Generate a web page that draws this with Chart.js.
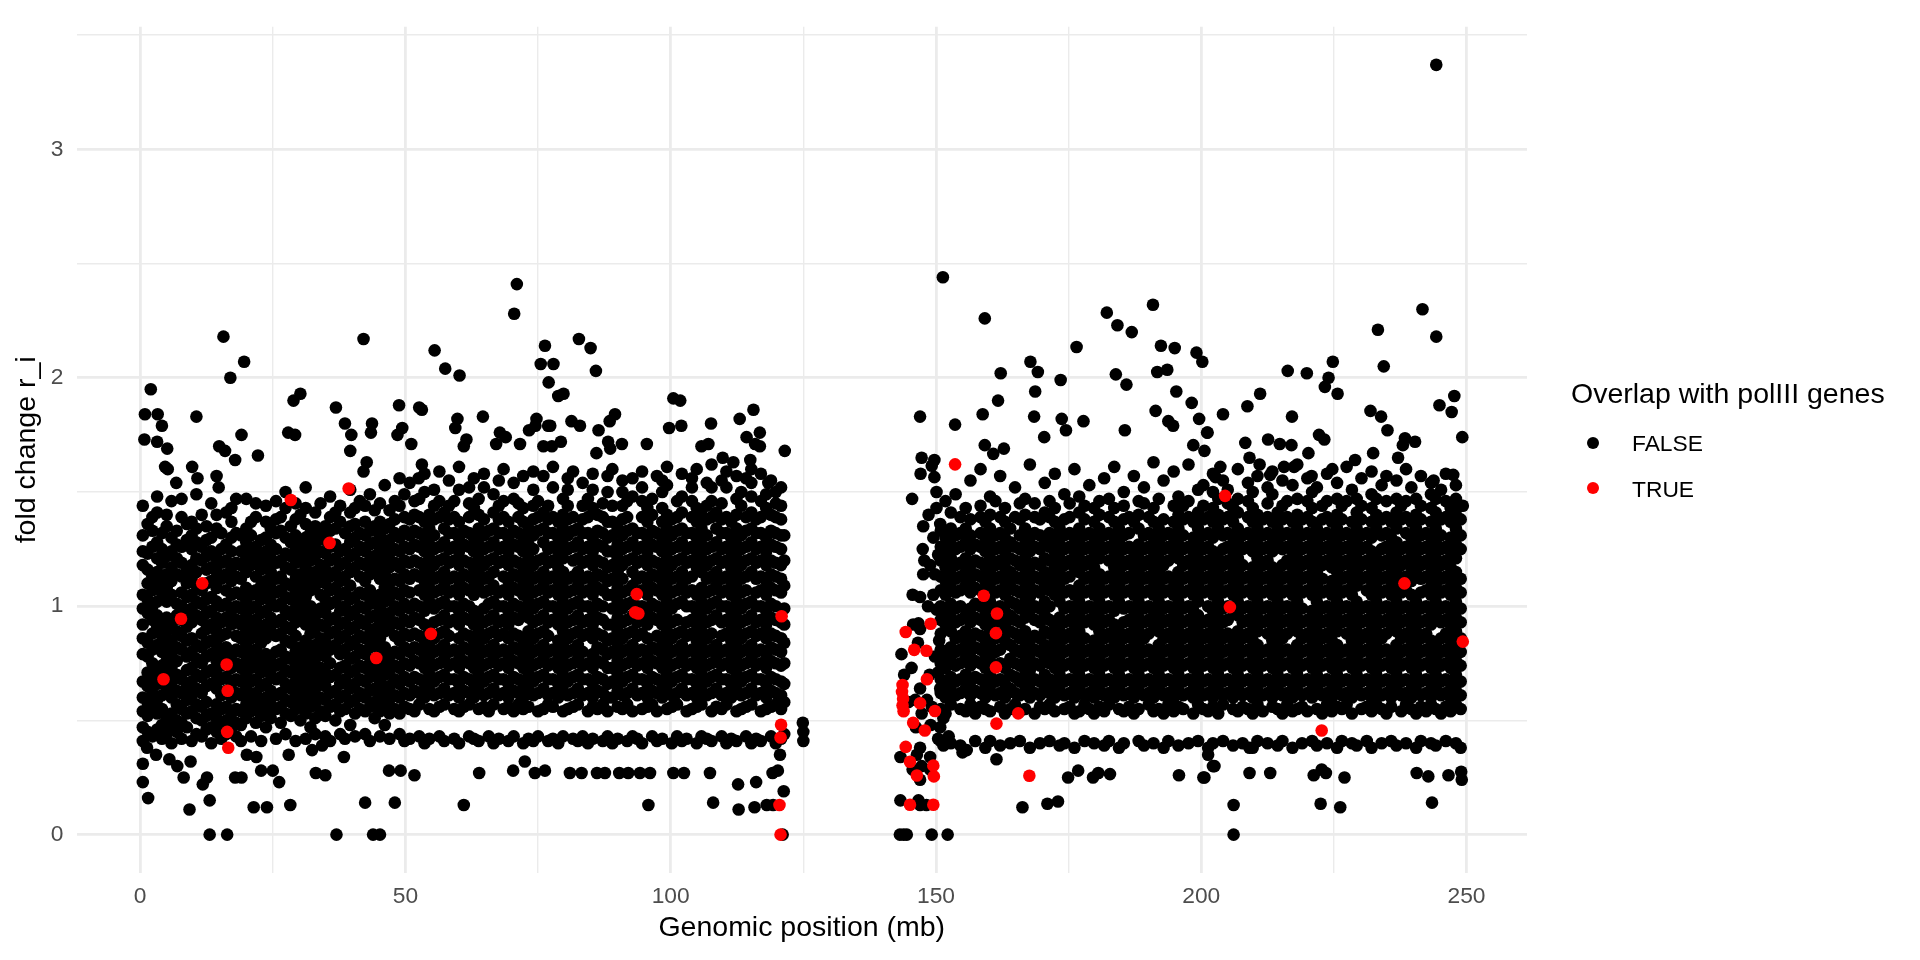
<!DOCTYPE html>
<html>
<head>
<meta charset="utf-8">
<script src="https://cdn.jsdelivr.net/npm/chart.js@4.4.1/dist/chart.umd.min.js"></script>
<style>
  html, body { margin: 0; padding: 0; background: #fff; }
  #wrap { position: relative; width: 1920px; height: 960px; font-family: "Liberation Sans", Arial, sans-serif; }
  #chart { position: absolute; left: 0; top: 0; }
  .lg-title { position: absolute; left: 1571px; top: 379px; font-size: 28.5px; line-height: 1; color: #000; white-space: nowrap; }
  .lg-label { position: absolute; left: 1632px; font-size: 22.8px; line-height: 1; color: #000; }
  .lg-dot { position: absolute; left: 1586.7px; width: 12.6px; height: 12.6px; border-radius: 50%; }
</style>
</head>
<body>
<div id="wrap">
  <canvas id="chart" width="1920" height="960"></canvas>
  <div class="lg-title">Overlap with polIII genes</div>
  <span class="lg-dot" style="top:436.7px;background:#000"></span>
  <div class="lg-label" style="top:432px">FALSE</div>
  <span class="lg-dot" style="top:481.7px;background:#ff0000"></span>
  <div class="lg-label" style="top:478px">TRUE</div>
</div>
<script>
const xTicks = [0, 25, 50, 75, 100, 125, 150, 175, 200, 225, 250];
const yTicks = [0, 0.5, 1, 1.5, 2, 2.5, 3, 3.5];

// dense cloud, left arm: [position mb, fold values read down that column]
const pArmColumns = [
  [0.5,[.41,.47,.54,.60,.67,.79,.86,.92,.99,1.05,1.18,1.24,1.31,1.44]],
  [1.4,[.45,.52,.58,.65,.71,.78,.84,.97,1.03,1.10,1.16,1.23,1.36]],
  [2.3,[.43,.56,.62,.68,.75,.81,.88,.94,1.00,1.07,1.13,1.26,1.33,1.39]],
  [3.2,[.46,.53,.59,.66,.72,.83,.91,.96,1.02,1.09,1.15,1.21,1.28,1.41,1.48]],
  [4.1,[.42,.48,.55,.61,.69,.74,.80,.87,.93,1.06,1.12,1.19,1.25,1.32]],
  [5.0,[.44,.51,.64,.70,.76,.83,.89,.95,1.02,1.08,1.14,1.22,1.35,1.40]],
  [5.9,[.40,.47,.53,.60,.66,.73,.79,.85,.92,1.05,1.11,1.17,1.24,1.30,1.46]],
  [6.9,[.45,.50,.57,.63,.70,.76,.82,.89,.96,1.01,1.14,1.21,1.27,1.33]],
  [7.8,[.42,.49,.55,.62,.68,.81,.87,.94,1.00,1.06,1.13,1.19,1.26,1.39,1.47]],
  [8.8,[.47,.53,.59,.65,.72,.78,.85,.91,.97,1.04,1.10,1.16,1.29,1.36]],
  [9.7,[.41,.54,.61,.67,.73,.80,.86,.93,.99,1.05,1.12,1.18,1.25,1.31,1.37]],
  [10.6,[.44,.51,.57,.64,.70,.77,.83,.96,1.02,1.09,1.15,1.21,1.28,1.34,1.49]],
  [11.6,[.43,.50,.56,.62,.69,.75,.82,.88,.94,1.01,1.07,1.20,1.26,1.40]],
  [12.5,[.46,.52,.58,.65,.71,.78,.84,.90,.97,1.03,1.10,1.16,1.22,1.29,1.35]],
  [13.4,[.40,.47,.53,.66,.72,.79,.85,.92,.98,1.04,1.11,1.17,1.24,1.30,1.45]],
  [14.4,[.45,.51,.57,.64,.70,.76,.83,.89,.95,1.02,1.08,1.15,1.21,1.34,1.40]],
  [15.3,[.42,.48,.55,.61,.68,.74,.80,.87,.93,1.00,1.12,1.19,1.25,1.32]],
  [16.2,[.44,.50,.56,.63,.69,.76,.82,.88,.95,1.01,1.07,1.14,1.20,1.27,1.41]],
  [17.2,[.47,.53,.60,.66,.73,.79,.92,.98,1.05,1.11,1.17,1.24,1.30,1.37,1.43]],
  [18.1,[.43,.49,.55,.62,.68,.75,.81,.87,.94,1.00,1.06,1.13,1.19,1.32,1.47]],
  [19.0,[.41,.48,.54,.61,.67,.73,.80,.86,.92,.99,1.05,1.12,1.18,1.24,1.31]],
  [20.0,[.51,.57,.64,.70,.76,.83,.89,.96,1.02,1.08,1.15,1.21,1.28,1.34,1.47]],
  [20.9,[.43,.54,.60,.67,.73,.79,.86,.92,.99,1.05,1.18,1.24,1.31,1.37]],
  [21.8,[.49,.56,.62,.68,.75,.81,.88,.94,1.00,1.07,1.13,1.20,1.26,1.39,1.45]],
  [22.8,[.41,.52,.58,.65,.71,.77,.84,.90,.97,1.03,1.09,1.16,1.22,1.29]],
  [23.7,[.47,.54,.60,.66,.73,.79,.86,.92,.98,1.05,1.11,1.18,1.24,1.30,1.37,1.44]],
  [24.6,[.51,.57,.63,.70,.76,.89,.95,1.02,1.08,1.15,1.21,1.27,1.34]],
  [25.6,[.42,.55,.61,.68,.74,.80,.87,.93,1.00,1.06,1.12,1.19,1.25,1.32,1.38,1.46]],
  [26.5,[.49,.56,.62,.69,.75,.81,.88,.94,1.01,1.07,1.13,1.20,1.33,1.39]],
  [27.4,[.44,.53,.59,.66,.72,.78,.85,.91,.98,1.04,1.10,1.17,1.23,1.30,1.43,1.50]],
  [28.4,[.52,.58,.64,.71,.77,.84,.90,.96,1.03,1.09,1.16,1.22,1.28,1.35]],
  [29.3,[.41,.55,.61,.67,.74,.80,.87,.93,.99,1.06,1.12,1.19,1.25,1.31,1.38,1.45]],
  [30.2,[.50,.57,.63,.70,.76,.82,.95,1.02,1.08,1.14,1.21,1.27,1.40]],
  [31.2,[.42,.53,.60,.66,.72,.79,.85,.92,.98,1.04,1.11,1.17,1.24,1.30,1.36,1.43,1.52]],
  [32.1,[.47,.56,.62,.68,.75,.81,.88,.94,1.00,1.07,1.13,1.20,1.26,1.32]],
  [33.0,[.44,.51,.58,.64,.71,.77,.83,.90,.96,1.09,1.15,1.22,1.28,1.35,1.41]],
  [34.0,[.54,.60,.67,.73,.80,.86,.92,.99,1.05,1.12,1.18,1.24,1.31,1.45]],
  [34.9,[.43,.52,.59,.65,.71,.78,.84,.91,.97,1.03,1.10,1.16,1.23,1.29,1.35]],
  [35.8,[.41,.56,.62,.69,.75,.81,.88,.94,1.01,1.07,1.13,1.20,1.26,1.33,1.39,1.48]],
  [36.8,[.50,.57,.63,.70,.83,.89,.95,1.02,1.08,1.15,1.21,1.27,1.34,1.41]],
  [37.7,[.44,.54,.60,.66,.73,.79,.86,.92,.98,1.05,1.11,1.18,1.24,1.37,1.44]],
  [38.6,[.42,.55,.61,.68,.74,.81,.87,.93,1.00,1.06,1.13,1.19,1.25,1.32]],
  [39.6,[.48,.58,.64,.71,.77,.83,.90,.96,1.03,1.09,1.15,1.22,1.28,1.35,1.41,1.51]],
  [40.5,[.43,.53,.59,.66,.72,.78,.85,.91,.98,1.04,1.17,1.23,1.30,1.36,1.43]],
  [41.4,[.55,.62,.68,.74,.81,.87,.94,1.00,1.06,1.13,1.19,1.26,1.32,1.46]],
  [42.4,[.44,.54,.60,.67,.73,.79,.86,.92,.99,1.05,1.11,1.18,1.24,1.31,1.37,1.44]],
  [43.3,[.41,.56,.63,.69,.75,.82,.88,.95,1.01,1.07,1.14,1.20,1.27,1.33,1.49]],
  [44.2,[.51,.58,.64,.71,.77,.84,.90,.96,1.03,1.16,1.22,1.28,1.35,1.42]],
  [45.2,[.43,.54,.61,.67,.73,.80,.86,.93,.99,1.05,1.12,1.18,1.25,1.31,1.37,1.45]],
  [46.1,[.48,.57,.63,.70,.76,.82,.89,.95,1.02,1.08,1.14,1.21,1.27,1.34,1.53]],
  [47.0,[.42,.53,.59,.65,.72,.78,.91,.97,1.04,1.10,1.17,1.23,1.29,1.36,1.42]],
  [48.0,[.55,.61,.68,.74,.80,.87,.93,1.00,1.06,1.12,1.19,1.25,1.32,1.38,1.46]],
  [48.9,[.44,.53,.60,.66,.73,.79,.85,.92,.98,1.05,1.11,1.17,1.24,1.30,1.44,1.56]],
  [49.8,[.41,.56,.62,.69,.75,.82,.88,.94,1.01,1.07,1.14,1.20,1.26,1.33,1.39,1.49]],
  [50.8,[.42,.55,.61,.67,.74,.80,.87,.93,.99,1.06,1.12,1.19,1.25,1.31,1.38,1.54]],
  [51.7,[.54,.63,.69,.76,.82,.88,.95,1.01,1.14,1.20,1.27,1.33,1.40,1.46]],
  [52.6,[.43,.57,.62,.68,.75,.81,.87,.94,1.00,1.07,1.13,1.19,1.26,1.32,1.39,1.47]],
  [53.6,[.40,.60,.66,.73,.79,.85,.92,.98,1.05,1.11,1.17,1.24,1.30,1.37,1.50,1.58]],
  [54.5,[.42,.55,.63,.70,.76,.83,.89,1.02,1.08,1.15,1.21,1.27,1.34,1.40]],
  [55.4,[.54,.61,.67,.74,.80,.86,.93,.99,1.06,1.12,1.18,1.25,1.31,1.38,1.44,1.51]],
  [56.4,[.43,.56,.62,.69,.75,.81,.88,.94,1.01,1.07,1.13,1.20,1.26,1.39,1.46,1.59]],
  [57.3,[.41,.57,.64,.70,.77,.83,.89,.96,1.02,1.09,1.15,1.21,1.28,1.34,1.41]],
  [58.2,[.61,.68,.74,.80,.87,.93,1.00,1.06,1.12,1.19,1.25,1.32,1.38,1.44,1.55]],
  [59.2,[.42,.55,.62,.68,.75,.81,.94,1.00,1.07,1.13,1.20,1.26,1.32,1.39,1.46]],
  [60.1,[.40,.54,.60,.66,.73,.79,.86,.92,.98,1.05,1.11,1.18,1.24,1.30,1.37,1.51,1.61]],
  [61.0,[.56,.63,.69,.76,.82,.88,.95,1.01,1.08,1.14,1.20,1.27,1.33]],
  [62.0,[.43,.57,.62,.68,.75,.81,.87,.94,1.00,1.07,1.13,1.19,1.26,1.32,1.39,1.45,1.52]],
  [62.9,[.42,.60,.66,.73,.79,.85,.92,.98,1.05,1.11,1.17,1.24,1.30,1.43,1.56]],
  [63.8,[.41,.55,.63,.70,.76,.83,.89,.95,1.08,1.15,1.21,1.27,1.34,1.40,1.47]],
  [64.8,[.56,.61,.67,.74,.80,.86,.93,.99,1.06,1.12,1.18,1.25,1.31,1.38,1.52,1.58]],
  [65.7,[.43,.54,.62,.69,.75,.81,.88,.94,1.01,1.07,1.13,1.20,1.26,1.33]],
  [66.6,[.40,.57,.64,.70,.77,.83,.89,.96,1.02,1.09,1.15,1.21,1.28,1.34,1.41,1.49]],
  [67.6,[.42,.61,.68,.74,.80,.87,.93,1.00,1.06,1.19,1.25,1.32,1.38,1.44,1.55]],
  [68.5,[.55,.62,.68,.75,.81,.88,.94,1.00,1.07,1.13,1.20,1.26,1.32,1.39,1.46,1.60]],
  [69.4,[.41,.56,.60,.66,.73,.79,.86,.92,.98,1.05,1.11,1.18,1.24,1.30,1.37]],
  [70.4,[.43,.54,.63,.69,.76,.82,.88,.95,1.01,1.08,1.14,1.20,1.27,1.33,1.47,1.54]],
  [71.3,[.57,.62,.68,.75,.81,.87,.94,1.00,1.07,1.13,1.19,1.26,1.32,1.39,1.45]],
  [72.2,[.40,.55,.60,.66,.73,.79,.85,.98,1.05,1.11,1.17,1.24,1.30,1.37,1.43,1.57]],
  [73.2,[.42,.56,.63,.70,.76,.83,.89,.95,1.02,1.08,1.15,1.21,1.27,1.34]],
  [74.1,[.41,.61,.67,.74,.80,.86,.93,.99,1.06,1.12,1.18,1.25,1.31,1.38,1.44,1.51,1.59]],
  [75.0,[.43,.54,.62,.69,.75,.81,.88,.94,1.01,1.07,1.13,1.20,1.33,1.39,1.46]],
  [76.0,[.55,.64,.70,.77,.83,.89,.96,1.02,1.09,1.15,1.21,1.28,1.34,1.41,1.57]],
  [76.9,[.41,.57,.61,.68,.74,.80,.87,.93,1.00,1.06,1.12,1.19,1.25,1.32,1.38,1.44]],
  [77.8,[.42,.56,.62,.68,.75,.81,.94,1.00,1.07,1.13,1.20,1.26,1.32,1.39,1.52,1.61]],
  [78.8,[.40,.60,.66,.73,.79,.85,.92,.98,1.05,1.11,1.17,1.24,1.30,1.37]],
  [79.7,[.43,.54,.63,.70,.76,.83,.89,.95,1.02,1.08,1.15,1.21,1.27,1.34,1.40,1.47]],
  [80.6,[.55,.61,.67,.74,.80,.86,.93,.99,1.06,1.12,1.25,1.31,1.38,1.44,1.51,1.56]],
  [81.6,[.42,.56,.62,.69,.75,.81,.88,.94,1.01,1.07,1.13,1.20,1.26,1.33,1.39,1.59]],
  [82.5,[.41,.57,.64,.70,.77,.83,.89,.96,1.02,1.09,1.15,1.21,1.28,1.34]],
  [83.4,[.43,.61,.68,.74,.80,.87,.93,1.00,1.06,1.12,1.19,1.25,1.32,1.38,1.44,1.54]],
  [84.4,[.40,.54,.62,.68,.75,.88,.94,1.00,1.07,1.13,1.20,1.26,1.32,1.39,1.47]],
  [85.3,[.42,.56,.60,.66,.73,.79,.86,.92,.98,1.05,1.11,1.18,1.24,1.30,1.43,1.51,1.58]],
  [86.2,[.55,.63,.69,.76,.82,.88,.95,1.01,1.08,1.14,1.20,1.27,1.33,1.40]],
  [87.2,[.41,.57,.62,.68,.75,.81,.87,.94,1.00,1.07,1.13,1.19,1.26,1.32,1.39,1.45]],
  [88.1,[.43,.54,.60,.66,.73,.79,.85,.92,1.05,1.11,1.17,1.24,1.30,1.37,1.50,1.57]],
  [89.0,[.40,.60,.67,.73,.80,.86,.92,.99,1.05,1.12,1.18,1.24,1.31,1.37,1.44,1.60]],
  [90.0,[.42,.56,.63,.70,.76,.83,.89,.95,1.02,1.08,1.15,1.21,1.27,1.34]],
  [90.9,[.55,.61,.67,.74,.80,.86,.93,.99,1.06,1.12,1.18,1.25,1.31,1.38,1.44,1.50,1.55]],
  [91.8,[.41,.57,.62,.69,.75,.81,.88,.94,1.01,1.07,1.20,1.26,1.33,1.39,1.46]],
  [92.8,[.43,.54,.64,.70,.77,.83,.89,.96,1.02,1.09,1.15,1.21,1.28,1.34,1.48,1.56]],
  [93.7,[.42,.61,.68,.74,.80,.87,.93,1.00,1.06,1.12,1.19,1.25,1.32]],
  [94.6,[.40,.55,.62,.68,.75,.81,.88,.94,1.00,1.07,1.13,1.20,1.26,1.32,1.39,1.46,1.52,1.59]],
  [95.6,[.56,.60,.66,.73,.79,.86,.92,.98,1.05,1.11,1.18,1.24,1.30,1.37,1.43]],
  [96.5,[.43,.57,.63,.69,.76,.82,.95,1.01,1.08,1.14,1.20,1.27,1.33,1.40,1.47]],
  [97.4,[.41,.54,.62,.68,.75,.81,.87,.94,1.00,1.07,1.13,1.19,1.26,1.32,1.57]],
  [98.4,[.42,.60,.66,.73,.79,.85,.92,.98,1.05,1.11,1.17,1.24,1.30,1.37,1.43,1.50,1.55]],
  [99.3,[.55,.63,.70,.76,.83,.89,.95,1.02,1.08,1.15,1.21,1.27,1.34,1.40,1.53,1.61]],
  [100.2,[.40,.56,.61,.67,.74,.80,.86,.93,.99,1.06,1.12,1.18,1.25,1.31,1.38]],
  [101.2,[.43,.57,.62,.69,.75,.81,.88,.94,1.01,1.07,1.13,1.20,1.26,1.33,1.39,1.46]],
  [102.1,[.41,.64,.70,.77,.83,.89,1.02,1.09,1.15,1.21,1.28,1.34,1.41,1.48,1.58]],
  [103.0,[.42,.54,.61,.68,.74,.80,.87,.93,1.00,1.06,1.12,1.19,1.25,1.32]],
  [104.0,[.55,.62,.68,.75,.81,.88,.94,1.00,1.07,1.13,1.20,1.26,1.32,1.39,1.46,1.52,1.56]],
  [104.9,[.40,.56,.60,.66,.73,.79,.85,.92,.98,1.05,1.17,1.24,1.30,1.37,1.43,1.60]],
  [105.8,[.43,.57,.63,.70,.76,.83,.89,.95,1.02,1.08,1.15,1.21,1.27,1.34,1.40]],
  [106.8,[.42,.61,.67,.74,.80,.86,.93,.99,1.06,1.12,1.18,1.25,1.31,1.38,1.44,1.54]],
  [107.7,[.41,.54,.62,.69,.75,.81,.88,.94,1.01,1.07,1.13,1.20,1.26,1.39,1.46,1.52,1.62]],
  [108.6,[.56,.64,.70,.77,.83,.96,1.02,1.09,1.15,1.21,1.28,1.34,1.41]],
  [109.6,[.43,.55,.61,.68,.74,.80,.87,.93,1.00,1.06,1.12,1.19,1.25,1.32,1.38,1.45,1.55]],
  [110.5,[.40,.57,.62,.68,.75,.81,.88,.94,1.00,1.07,1.13,1.20,1.26,1.32,1.39,1.52,1.59]],
  [111.4,[.42,.60,.66,.73,.79,.85,.92,.98,1.05,1.11,1.17,1.24,1.30,1.37]],
  [112.4,[.41,.54,.63,.70,.76,.83,.89,.95,1.02,1.08,1.15,1.21,1.27,1.34,1.40,1.47,1.57]],
  [113.3,[.55,.61,.67,.74,.80,.86,.93,.99,1.06,1.12,1.18,1.25,1.31,1.44,1.50]],
  [114.2,[.43,.56,.62,.69,.75,.81,.88,.94,1.01,1.07,1.13,1.20,1.26,1.33,1.39,1.56]],
  [115.2,[.40,.57,.64,.70,.77,.83,.89,.96,1.02,1.15,1.21,1.28,1.34,1.41,1.48,1.54,1.60]],
  [116.1,[.42,.61,.68,.74,.80,.87,.93,1.00,1.06,1.12,1.19,1.25,1.32,1.38]],
  [117.0,[.41,.54,.62,.68,.75,.81,.88,.94,1.00,1.07,1.13,1.20,1.26,1.32,1.39,1.46,1.58]],
  [118.0,[.55,.60,.66,.73,.79,.86,.92,.98,1.05,1.11,1.18,1.24,1.30,1.43,1.49]],
  [118.9,[.43,.56,.63,.69,.76,.82,.88,.95,1.01,1.08,1.14,1.20,1.27,1.33,1.40,1.55]],
  [119.8,[.40,.57,.62,.68,.75,.81,.87,.94,1.00,1.07,1.13,1.19,1.26,1.32,1.39,1.45,1.50]],
  [120.8,[.42,.55,.61,.67,.74,.80,.86,.93,1.06,1.12,1.18,1.25,1.31,1.38,1.44,1.52]],
  [121.4,[.44,.58,.66,.75,.84,.92,.99,1.09,1.20,1.31]]
];

// dense cloud, right arm
const qArmColumns = [
  [150.9,[.41,.55,.62,.68,.75,.81,.88,.94,1.00,1.07,1.13,1.20,1.26,1.33]],
  [151.8,[.53,.60,.66,.73,.79,.92,.98,1.05,1.11,1.17,1.24,1.30,1.46]],
  [152.8,[.40,.57,.63,.69,.76,.82,.89,.95,1.01,1.08,1.14,1.21,1.27,1.34,1.41]],
  [153.7,[.61,.67,.74,.80,.86,.93,.99,1.06,1.12,1.18,1.25,1.31,1.49]],
  [154.6,[.39,.55,.62,.68,.75,.81,.87,.94,1.00,1.07,1.13,1.19,1.26,1.32,1.39]],
  [155.6,[.54,.64,.70,.77,.83,.89,.96,1.09,1.15,1.21,1.28,1.34,1.43]],
  [156.5,[.57,.61,.67,.74,.80,.86,.93,.99,1.06,1.12,1.18,1.25,1.31,1.38,1.55]],
  [157.4,[.41,.53,.63,.69,.76,.82,.88,.95,1.01,1.08,1.14,1.20,1.27]],
  [158.4,[.56,.62,.68,.75,.81,.87,.94,1.00,1.07,1.13,1.19,1.26,1.32,1.39,1.44,1.60]],
  [159.3,[.38,.55,.60,.66,.73,.79,.85,.92,.98,1.11,1.17,1.24,1.30,1.37]],
  [160.2,[.41,.54,.63,.70,.76,.83,.89,.95,1.02,1.08,1.15,1.21,1.27,1.34,1.40,1.48]],
  [161.2,[.61,.67,.74,.80,.86,.93,.99,1.06,1.12,1.18,1.25,1.31,1.46]],
  [162.1,[.39,.56,.62,.68,.75,.81,.88,.94,1.00,1.07,1.13,1.20,1.26,1.32,1.39,1.57]],
  [163.0,[.53,.60,.66,.73,.85,.92,.98,1.05,1.11,1.17,1.24,1.30,1.37,1.43]],
  [164.0,[.40,.55,.64,.70,.77,.83,.89,.96,1.02,1.09,1.15,1.21,1.28,1.34]],
  [164.9,[.57,.62,.69,.75,.81,.88,.94,1.01,1.07,1.13,1.20,1.26,1.39,1.52]],
  [165.8,[.41,.54,.61,.67,.74,.80,.86,.93,.99,1.06,1.12,1.18,1.25,1.31,1.38,1.45]],
  [166.8,[.55,.63,.70,.76,.82,.89,.95,1.02,1.08,1.14,1.21,1.27,1.34,1.40,1.47]],
  [167.7,[.38,.60,.66,.72,.79,.85,.98,1.04,1.11,1.17,1.24,1.30,1.62]],
  [168.6,[.53,.62,.68,.75,.81,.87,.94,1.00,1.07,1.13,1.19,1.26,1.32,1.39,1.45]],
  [169.6,[.40,.56,.61,.67,.74,.80,.86,.93,.99,1.06,1.12,1.18,1.25,1.31,1.38]],
  [170.5,[.55,.64,.70,.77,.83,.89,.96,1.02,1.09,1.15,1.21,1.28,1.41,1.54]],
  [171.4,[.41,.57,.62,.68,.75,.81,.88,.94,1.00,1.07,1.13,1.20,1.26,1.32,1.39,1.46]],
  [172.4,[.54,.60,.66,.73,.79,.85,.92,1.05,1.11,1.17,1.24,1.30,1.37,1.43,1.58]],
  [173.3,[.39,.63,.70,.76,.83,.89,.95,1.02,1.08,1.15,1.21,1.27,1.34]],
  [174.2,[.40,.55,.61,.67,.74,.80,.86,.93,.99,1.06,1.12,1.18,1.25,1.31,1.38,1.49]],
  [175.2,[.56,.62,.68,.75,.81,.88,.94,1.00,1.07,1.13,1.20,1.26,1.32,1.39,1.45]],
  [176.1,[.38,.53,.60,.66,.73,.79,.85,.92,.98,1.05,1.17,1.24,1.30,1.60]],
  [177.0,[.54,.64,.70,.77,.83,.89,.96,1.02,1.09,1.15,1.21,1.28,1.34,1.41,1.48]],
  [178.0,[.41,.57,.61,.67,.74,.80,.86,.93,.99,1.06,1.12,1.18,1.25,1.31,1.38,1.44]],
  [178.9,[.55,.62,.68,.75,.81,.94,1.00,1.07,1.13,1.20,1.26,1.32,1.53]],
  [179.8,[.40,.53,.60,.66,.73,.79,.85,.92,.98,1.05,1.11,1.17,1.24,1.30,1.37,1.43]],
  [180.8,[.56,.63,.70,.76,.82,.89,.95,1.02,1.08,1.14,1.21,1.27,1.34,1.40,1.46]],
  [181.7,[.39,.54,.61,.67,.74,.80,.86,.93,.99,1.06,1.12,1.25,1.31,1.56]],
  [182.6,[.41,.57,.62,.68,.75,.81,.88,.94,1.00,1.07,1.13,1.20,1.26,1.32,1.39,1.47]],
  [183.6,[.60,.66,.73,.79,.85,.92,.98,1.05,1.11,1.17,1.24,1.30,1.37,1.43,1.61]],
  [184.5,[.38,.55,.64,.70,.77,.83,.89,1.02,1.09,1.15,1.21,1.28,1.34]],
  [185.4,[.40,.54,.61,.67,.74,.80,.86,.93,.99,1.06,1.12,1.18,1.25,1.31,1.38,1.44,1.50]],
  [186.4,[.56,.62,.68,.75,.81,.88,.94,1.00,1.07,1.13,1.20,1.26,1.32,1.39]],
  [187.3,[.53,.60,.66,.73,.79,.85,.92,.98,1.05,1.11,1.17,1.24,1.37,1.57]],
  [188.2,[.41,.55,.63,.70,.76,.83,.89,.95,1.02,1.08,1.15,1.21,1.27,1.34,1.40,1.46]],
  [189.2,[.39,.61,.67,.74,.80,.86,.93,.99,1.06,1.12,1.18,1.25,1.31,1.45,1.52]],
  [190.1,[.57,.62,.68,.75,.81,.88,.94,1.00,1.07,1.13,1.20,1.26,1.32,1.39]],
  [191.0,[.40,.54,.60,.66,.73,.79,.92,.98,1.05,1.11,1.17,1.24,1.30,1.37,1.43,1.63]],
  [192.0,[.55,.64,.70,.77,.83,.89,.96,1.02,1.09,1.15,1.21,1.28,1.34,1.47]],
  [192.9,[.38,.53,.61,.67,.74,.80,.86,.93,.99,1.06,1.12,1.18,1.25,1.31,1.38,1.55]],
  [193.8,[.41,.57,.62,.68,.75,.81,.88,.94,1.00,1.07,1.13,1.20,1.26,1.32]],
  [194.8,[.54,.60,.66,.73,.79,.85,.92,.98,1.05,1.11,1.24,1.30,1.37,1.44,1.59]],
  [195.7,[.39,.56,.63,.70,.76,.83,.89,.95,1.02,1.08,1.15,1.21,1.27,1.34,1.40,1.48]],
  [196.6,[.55,.61,.67,.74,.80,.86,.93,.99,1.06,1.12,1.18,1.25,1.31,1.38,1.44]],
  [197.6,[.40,.62,.68,.75,.81,.88,.94,1.00,1.07,1.13,1.20,1.26,1.39,1.46,1.62]],
  [198.5,[.53,.60,.66,.73,.79,.85,.92,.98,1.05,1.11,1.17,1.24,1.30,1.37]],
  [199.4,[.41,.57,.64,.70,.77,.83,.89,.96,1.02,1.09,1.15,1.21,1.28,1.34,1.41,1.51]],
  [200.4,[.55,.61,.67,.74,.80,.86,.93,1.06,1.12,1.18,1.25,1.31,1.38,1.44,1.53]],
  [201.3,[.38,.54,.62,.68,.75,.81,.88,.94,1.00,1.07,1.13,1.20,1.26,1.32,1.39]],
  [202.2,[.40,.56,.60,.66,.73,.79,.85,.92,.98,1.05,1.11,1.17,1.24,1.30,1.37,1.43,1.50,1.58]],
  [203.2,[.53,.63,.70,.76,.83,.89,.95,1.02,1.08,1.15,1.21,1.34,1.40,1.47]],
  [204.1,[.41,.57,.61,.67,.74,.80,.86,.93,.99,1.06,1.12,1.18,1.25,1.31,1.38,1.55]],
  [205.0,[.62,.68,.75,.81,.88,.94,1.00,1.07,1.13,1.20,1.26,1.32,1.39,1.45,1.51]],
  [206.0,[.39,.55,.60,.66,.73,.79,.85,.98,1.05,1.11,1.17,1.24,1.30,1.37,1.43]],
  [206.9,[.54,.64,.70,.77,.83,.89,.96,1.02,1.09,1.15,1.21,1.28,1.34,1.41,1.47,1.60]],
  [207.8,[.40,.56,.61,.67,.74,.80,.86,.93,.99,1.06,1.12,1.18,1.25,1.31]],
  [208.8,[.55,.62,.68,.75,.81,.88,.94,1.00,1.07,1.13,1.26,1.32,1.39,1.46,1.54]],
  [209.7,[.38,.53,.60,.66,.73,.79,.85,.92,.98,1.05,1.11,1.17,1.24,1.30,1.37,1.43,1.50]],
  [210.6,[.41,.57,.63,.70,.76,.83,.89,.95,1.02,1.08,1.15,1.21,1.27,1.34,1.40,1.57]],
  [211.6,[.54,.61,.67,.74,.80,.93,.99,1.06,1.12,1.18,1.25,1.31,1.38]],
  [212.5,[.40,.62,.68,.75,.81,.88,.94,1.00,1.07,1.13,1.20,1.26,1.32,1.39,1.45,1.52]],
  [213.4,[.56,.60,.66,.73,.79,.85,.92,.98,1.05,1.11,1.17,1.24,1.30,1.37,1.49,1.59]],
  [214.4,[.39,.55,.64,.70,.77,.83,.89,.96,1.02,1.09,1.15,1.28,1.34,1.41]],
  [215.3,[.41,.53,.61,.67,.74,.80,.86,.93,.99,1.06,1.12,1.18,1.25,1.31,1.38,1.44,1.55]],
  [216.2,[.57,.62,.68,.75,.81,.88,.94,1.00,1.07,1.13,1.20,1.26,1.32,1.39,1.46]],
  [217.2,[.38,.54,.60,.66,.73,.79,.92,.98,1.05,1.11,1.17,1.24,1.30,1.37,1.53]],
  [218.1,[.55,.63,.70,.76,.83,.89,.95,1.02,1.08,1.15,1.21,1.27,1.34,1.40,1.47,1.62]],
  [219.0,[.40,.56,.61,.67,.74,.80,.86,.93,.99,1.06,1.12,1.18,1.25,1.31,1.38]],
  [220.0,[.54,.62,.68,.75,.81,.88,.94,1.07,1.13,1.20,1.26,1.32,1.39,1.46,1.56]],
  [220.9,[.41,.60,.66,.73,.79,.85,.92,.98,1.05,1.11,1.17,1.24,1.30,1.37,1.43,1.50]],
  [221.8,[.39,.55,.64,.70,.77,.83,.89,.96,1.02,1.09,1.15,1.21,1.28,1.34,1.52]],
  [222.8,[.53,.61,.67,.74,.80,.86,.93,.99,1.06,1.12,1.18,1.25,1.31,1.38,1.44]],
  [223.7,[.40,.57,.62,.68,.75,.81,.88,.94,1.00,1.07,1.20,1.26,1.32,1.39,1.46,1.58]],
  [224.6,[.54,.60,.66,.73,.79,.85,.92,.98,1.05,1.11,1.17,1.24,1.30,1.37]],
  [225.6,[.38,.56,.63,.70,.76,.83,.89,.95,1.02,1.08,1.15,1.21,1.27,1.34,1.40,1.47,1.54]],
  [226.5,[.41,.55,.61,.67,.74,.80,.93,.99,1.06,1.12,1.18,1.25,1.31,1.38,1.44]],
  [227.4,[.57,.62,.68,.75,.81,.88,.94,1.00,1.07,1.13,1.20,1.26,1.32,1.46,1.61]],
  [228.4,[.40,.53,.60,.66,.73,.79,.85,.92,.98,1.05,1.11,1.17,1.24,1.30,1.37,1.51]],
  [229.3,[.39,.64,.70,.77,.83,.89,.96,1.02,1.09,1.15,1.21,1.28,1.34,1.41,1.47]],
  [230.2,[.55,.61,.67,.74,.80,.86,.93,.99,1.12,1.18,1.25,1.31,1.38,1.44,1.56]],
  [231.2,[.41,.56,.62,.68,.75,.81,.88,.94,1.00,1.07,1.13,1.20,1.26,1.32]],
  [232.1,[.38,.54,.60,.66,.73,.79,.85,.92,.98,1.05,1.11,1.17,1.24,1.30,1.37,1.43,1.49,1.59]],
  [233.0,[.57,.63,.70,.76,.83,.89,.95,1.02,1.08,1.15,1.21,1.34,1.40,1.47]],
  [234.0,[.40,.55,.61,.67,.74,.80,.86,.93,.99,1.06,1.12,1.18,1.25,1.31,1.38,1.53]],
  [234.9,[.53,.62,.68,.75,.81,.88,.94,1.00,1.07,1.13,1.20,1.26,1.32,1.39,1.46,1.57]],
  [235.8,[.41,.56,.60,.66,.73,.79,.92,.98,1.05,1.11,1.17,1.24,1.30,1.37]],
  [236.8,[.39,.64,.70,.77,.83,.89,.96,1.02,1.09,1.15,1.21,1.28,1.34,1.41,1.47,1.55]],
  [237.7,[.54,.61,.67,.74,.80,.86,.93,.99,1.06,1.12,1.18,1.25,1.38,1.44]],
  [238.6,[.40,.57,.62,.68,.75,.81,.88,.94,1.00,1.07,1.13,1.20,1.26,1.32,1.39,1.46,1.60]],
  [239.6,[.55,.60,.66,.73,.79,.85,.92,.98,1.05,1.11,1.17,1.24,1.30,1.37,1.52]],
  [240.5,[.38,.53,.63,.70,.76,.83,.89,.95,1.02,1.15,1.21,1.27,1.34,1.40,1.47]],
  [241.4,[.41,.56,.61,.67,.74,.80,.86,.93,.99,1.06,1.12,1.18,1.25,1.31,1.38,1.44,1.57]],
  [242.4,[.54,.62,.68,.75,.81,.88,.94,1.00,1.07,1.13,1.20,1.26,1.32]],
  [243.3,[.40,.57,.60,.66,.73,.79,.85,.92,.98,1.05,1.11,1.17,1.24,1.30,1.37,1.43,1.49,1.54]],
  [244.2,[.39,.55,.64,.70,.77,.83,.96,1.02,1.09,1.15,1.21,1.28,1.34,1.41,1.47]],
  [245.2,[.53,.61,.67,.74,.80,.86,.93,.99,1.06,1.12,1.18,1.25,1.31,1.38,1.51]],
  [246.1,[.41,.56,.62,.68,.75,.81,.88,.94,1.00,1.07,1.13,1.20,1.26,1.39,1.46,1.58]],
  [247.0,[.54,.60,.66,.73,.79,.85,.92,.98,1.05,1.11,1.17,1.24,1.30,1.37,1.43]],
  [248.0,[.40,.57,.63,.70,.76,.83,.89,.95,1.02,1.08,1.15,1.21,1.27,1.34,1.40,1.47,1.53]],
  [248.9,[.38,.55,.61,.67,.74,.80,.86,.93,.99,1.06,1.12,1.25,1.31,1.38,1.44]]
];

// scattered points outside the dense band, left arm: [position, fold]
const pArmSparse = [
  [0.9,1.84],[3.3,1.84],[4.1,1.79],[0.8,1.73],[3.2,1.72],[5.1,1.69],[2.0,1.95],[15.7,2.18],[19.6,2.07],[17.0,2.0],
  [10.6,1.83],[19.1,1.75],[14.9,1.70],[16.0,1.68],[17.9,1.64],[22.2,1.66],[4.7,1.61],[5.2,1.60],[6.8,1.54],[9.8,1.61],
  [10.8,1.56],[14.4,1.57],[14.8,1.52],[30.2,1.93],[28.9,1.90],[27.9,1.76],[29.2,1.75],[36.9,1.87],[38.6,1.80],[39.8,1.75],
  [39.6,1.68],[42.1,2.17],[43.7,1.80],[43.5,1.76],[42.7,1.63],[42.1,1.59],[48.8,1.88],[52.6,1.87],[53.1,1.86],[49.4,1.78],
  [48.5,1.75],[51.1,1.71],[55.5,2.12],[57.5,2.04],[60.2,2.01],[64.6,1.83],[59.8,1.82],[59.4,1.78],[61.5,1.73],[61.0,1.70],
  [67.8,1.76],[68.9,1.74],[74.7,1.82],[73.3,1.77],[74.5,1.79],[76.9,1.79],[67.1,1.71],[71.6,1.71],[53.1,1.62],[52.5,1.56],
  [70.5,2.28],[71.0,2.41],[76.3,2.14],[75.5,2.06],[77.0,1.98],[77.9,2.06],[82.7,2.17],[84.9,2.13],[85.9,2.03],[78.8,1.92],
  [79.8,1.93],[77.3,1.79],[81.3,1.81],[82.9,1.79],[86.4,1.77],[88.5,1.81],[89.5,1.84],[79.3,1.72],[76.0,1.70],[77.6,1.70],
  [88.2,1.72],[90.8,1.71],[88.6,1.69],[95.5,1.71],[86.0,1.67],[100.5,1.91],[101.8,1.90],[99.7,1.78],[102.0,1.79],[107.6,1.80],
  [113.0,1.82],[115.6,1.86],[105.8,1.70],[107.1,1.71],[114.3,1.74],[116.8,1.76],[115.9,1.71],[116.8,1.70],[121.5,1.68],[109.8,1.65],
  [111.8,1.63],[115.0,1.64],[118.4,1.54],
  [13.1,0],[16.4,0],[37.0,0],[43.9,0],[45.2,0],[121.1,0],
  [1.5,0.16],[9.3,0.11],[13.1,0.15],[21.4,0.12],[23.9,0.12],[28.3,0.13],[42.4,0.14],[48.0,0.14],[61.0,0.13],[95.8,0.13],
  [108.0,0.14],[112.8,0.11],[115.8,0.12],[118.1,0.13],[119.3,0.13],
  [0.5,0.23],[0.5,0.31],[1.3,0.38],[8.2,0.25],[11.8,0.22],[12.6,0.25],[9.5,0.32],[17.9,0.25],[19.1,0.25],[20.1,0.35],
  [21.9,0.34],[22.8,0.28],[25.0,0.28],[26.2,0.23],[33.1,0.27],[34.9,0.26],[32.4,0.37],[34.3,0.39],[28.0,0.35],[38.4,0.34],
  [46.9,0.28],[49.1,0.28],[51.7,0.26],[63.9,0.27],[70.3,0.28],[72.5,0.32],[74.4,0.27],[76.3,0.28],[81.0,0.27],[83.2,0.27],
  [86.1,0.27],[87.6,0.27],[90.3,0.27],[92.0,0.27],[94.2,0.27],[96.1,0.27],[100.5,0.27],[102.5,0.27],[107.4,0.27],[112.7,0.22],
  [116.1,0.23],[119.2,0.27],[120.2,0.28],[121.3,0.19],[120.6,0.35],[3.0,0.35],[5.5,0.33],[7.0,0.30],
  [124.9,0.49],[125.0,0.45],[125.0,0.41]
];

// scattered points, right arm (incl. the sparse stretch at 143-151 mb)
const qArmSparse = [
  [143.2,0],[144.5,0],[143.9,0],[149.2,0],[152.2,0],[206.1,0],
  [143.3,0.15],[146.7,0.15],[148.2,0.13],[147.0,0.13],[206.1,0.13],[222.5,0.135],[226.2,0.12],[243.5,0.14],[166.3,0.12],[171.0,0.135],[173.0,0.145],
  [143.3,0.34],[146.4,0.35],[148.9,0.34],[147.0,0.38],[145.6,0.285],[147.3,0.30],[148.9,0.285],[147.0,0.24],
  [174.9,0.25],[176.8,0.28],[179.6,0.25],[180.6,0.27],[182.8,0.265],[195.8,0.26],[200.4,0.25],[202.2,0.30],[200.6,0.25],[202.5,0.30],
  [201.3,0.35],[209.1,0.27],[213.0,0.27],[221.2,0.26],[222.7,0.285],[223.5,0.27],[227.0,0.25],[240.6,0.27],[242.8,0.255],[246.6,0.26],
  [249.0,0.275],[249.1,0.24],[161.4,0.33],[155.0,0.36],[155.8,0.37],[209.1,0.38],
  [143.5,0.79],[145.4,0.73],[147.0,0.64],[146.1,0.59],[148.3,0.59],[149.2,0.56],[147.3,0.53],[151.4,0.51],[150.8,0.47],[151.4,0.39],
  [150.4,0.42],[152.4,0.43],[147.0,0.90],[145.7,0.92],[146.7,0.925],[147.0,1.04],[145.6,1.05],[147.6,1.14],[147.8,1.20],[147.5,1.25],
  [147.6,1.35],[145.5,1.47],[147.1,1.58],[147.3,1.65],[149.7,1.64],[147.0,1.83],[149.2,1.615],[149.7,1.565],[150.1,1.50],[150.1,1.43],
  [150.8,1.36],[149.5,1.30],[150.4,1.225],[149.8,1.14],[149.5,1.05],[150.1,0.985],[150.6,0.85],[149.8,0.78],[150.4,0.71],[150.8,0.64],
  [148.8,0.70],[146.6,0.84],[148.5,1.0],[148.9,1.18],[148.6,1.40],[149.0,0.48],[144.8,0.58],[146.2,0.47],[144.0,0.70],
  [151.3,2.44],[159.2,2.26],[182.2,2.285],[184.2,2.23],[186.9,2.20],[190.9,2.32],[176.5,2.135],[192.4,2.14],[195.0,2.13],[199.1,2.11],
  [200.2,2.07],[167.8,2.07],[169.2,2.025],[162.2,2.02],[173.5,1.99],[183.9,2.015],[185.9,1.97],[191.7,2.025],[193.6,2.035],[168.7,1.94],
  [161.7,1.90],[195.3,1.94],[198.2,1.89],[168.5,1.83],[158.8,1.84],[153.6,1.795],[199.6,1.82],[201.2,1.76],[191.4,1.855],[193.8,1.81],
  [194.7,1.79],[198.5,1.705],[185.6,1.77],[173.7,1.82],[177.8,1.81],[174.5,1.77],[170.4,1.74],[159.2,1.705],[160.8,1.667],[162.8,1.69],
  [241.7,2.30],[233.3,2.21],[244.3,2.18],[234.4,2.05],[224.8,2.07],[224.0,2.00],[223.3,1.96],[225.7,1.93],[216.3,2.03],[219.9,2.02],
  [211.1,1.93],[208.7,1.875],[204.1,1.84],[217.1,1.83],[247.7,1.92],[244.9,1.88],[247.2,1.85],[249.2,1.74],[231.9,1.855],[233.9,1.83],
  [235.1,1.77],[238.4,1.735],[240.3,1.72],[222.2,1.75],[223.2,1.73],[212.6,1.73],[214.8,1.71],[217.0,1.705],[208.3,1.715],[201.1,1.76],
  [200.6,1.68],[220.2,1.67],[229.0,1.64],[232.4,1.67],[237.1,1.65],[238.0,1.705],[211.0,1.62],[213.0,1.575],[209.1,1.65],[202.7,1.565],
  [203.6,1.61],[215.6,1.61],[217.5,1.61],[220.8,1.57],[224.7,1.60],[243.8,1.55],[247.5,1.575],[249.3,1.44],[244.3,3.37]
];

// bins overlapping polIII genes (red)
const polIIIPos = [4.4, 7.7, 11.7, 16.3, 16.5, 16.4, 16.6, 28.4, 35.7, 39.3, 44.5, 54.8, 93.6, 93.3, 93.9,
  120.9, 120.8, 120.7, 120.5, 120.7,
  143.7, 143.6, 143.8, 143.7, 143.9, 144.3, 144.3, 145.1, 145.1, 145.7, 145.9, 146.4, 147.0, 147.9, 148.2,
  148.3, 149.0, 149.5, 149.5, 149.6, 149.8, 153.6, 159.0, 161.3, 161.3, 161.4, 161.5, 165.5, 167.6,
  204.5, 205.4, 222.7, 238.3, 249.3];
const polIIIFold = [0.68, 0.945, 1.10, 0.745, 0.63, 0.45, 0.38, 1.465, 1.277, 1.515, 0.773, 0.879, 1.053, 0.973, 0.968,
  0.956, 0.481, 0.425, 0.13, 0.0,
  0.655, 0.625, 0.595, 0.565, 0.54, 0.887, 0.384, 0.319, 0.131, 0.49, 0.809, 0.259, 0.575, 0.456, 0.805,
  0.68, 0.923, 0.302, 0.131, 0.255, 0.541, 1.621, 1.046, 0.882, 0.732, 0.486, 0.968, 0.531, 0.258,
  1.483, 0.996, 0.456, 1.10, 0.845];

const FONT = '"Liberation Sans", Arial, sans-serif';
const DOT = 6.3;

function colPoints(cols) {
  return cols.flatMap(([pos, folds]) => folds.map(f => ({ x: pos, y: f })));
}
function pairPoints(list) {
  return list.map(([pos, fold]) => ({ x: pos, y: fold }));
}

const falsePts = [
  ...colPoints(pArmColumns), ...colPoints(qArmColumns),
  ...pairPoints(pArmSparse), ...pairPoints(qArmSparse)
];
const truePts = polIIIPos.map((p, i) => ({ x: p, y: polIIIFold[i] }));

new Chart(document.getElementById('chart'), {
  type: 'scatter',
  data: {
    datasets: [
      { label: 'TRUE', data: truePts, backgroundColor: '#ff0000', pointRadius: DOT, pointBorderWidth: 0, order: 0 },
      { label: 'FALSE', data: falsePts, backgroundColor: '#000000', pointRadius: DOT, pointBorderWidth: 0, order: 1 }
    ]
  },
  options: {
    responsive: false, animation: false, events: [], devicePixelRatio: 1,
    layout: { padding: { top: 15, right: 393, bottom: 0, left: 0 } },
    plugins: { legend: { display: false }, tooltip: { enabled: false } },
    scales: {
      x: {
        type: 'linear', min: -12, max: 261.4,
        afterBuildTicks: s => { s.ticks = xTicks.map(v => ({ value: v })); },
        afterFit: s => { s.height = 87; },
        border: { display: false },
        grid: { color: '#ebebeb', drawTicks: false, lineWidth: c => (c.tick && c.tick.value % 50 === 0) ? 2.8 : 1.4 },
        ticks: { autoSkip: false, maxRotation: 0, padding: 10, color: '#4d4d4d', font: { family: FONT, size: 22.8 },
                 callback: v => v % 50 === 0 ? String(v) : '' },
        title: { display: true, text: 'Genomic position (mb)', color: '#000',
                 font: { family: FONT, size: 28.5, lineHeight: 1.2 }, padding: { top: 0, bottom: 15 } }
      },
      y: {
        type: 'linear', min: -0.168, max: 3.537,
        afterBuildTicks: s => { s.ticks = yTicks.map(v => ({ value: v })); },
        afterFit: s => { s.width = 76.5; },
        border: { display: false },
        grid: { color: '#ebebeb', drawTicks: false, lineWidth: c => (c.tick && Number.isInteger(c.tick.value)) ? 2.8 : 1.4 },
        ticks: { autoSkip: false, padding: 13, color: '#4d4d4d', font: { family: FONT, size: 22.8 },
                 callback: v => Number.isInteger(v) ? String(v) : '' },
        title: { display: true, text: 'fold change r_i', color: '#000',
                 font: { family: FONT, size: 28.5, lineHeight: 1.2 }, padding: { top: 10, bottom: 0 } }
      }
    }
  }
});
</script>
</body>
</html>
